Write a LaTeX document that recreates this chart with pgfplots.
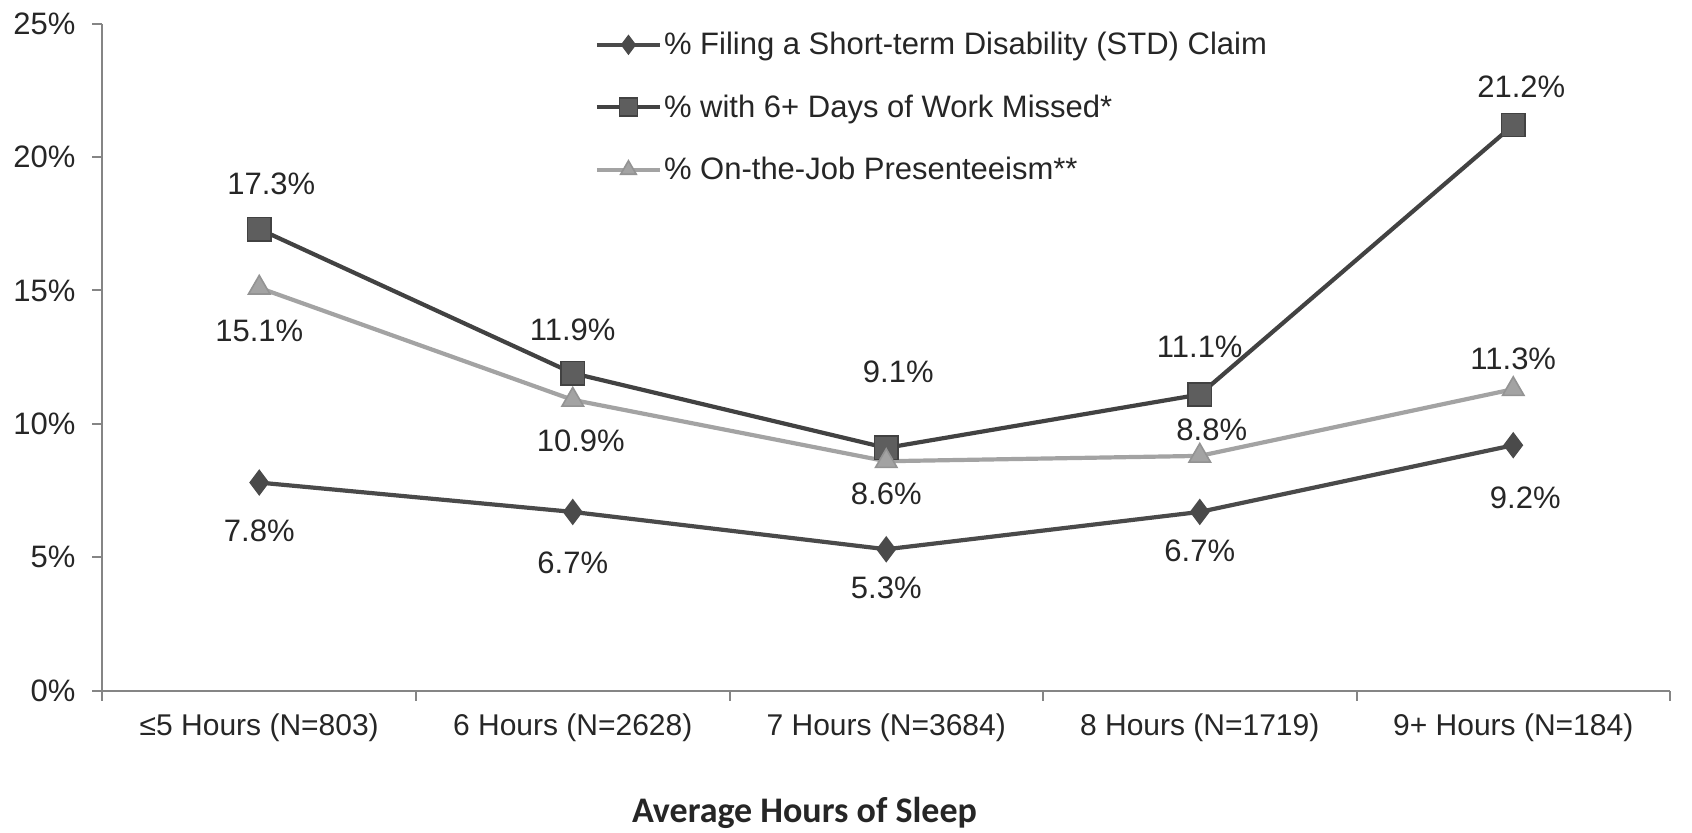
\documentclass[border=0pt]{standalone}
\usepackage{fontspec}
\setmainfont{Liberation Sans}
\newfontfamily\labelfont{Carlito}
\usepackage{pgfplots}
\usepackage{pgfplotstable}
\pgfplotsset{compat=1.18}

\definecolor{stdc}{HTML}{4A4A4A}
\definecolor{sqc}{HTML}{424242}
\definecolor{trc}{HTML}{A3A3A3}
\definecolor{axc}{HTML}{858585}

\pgfplotsset{
  vallabels/.style={
    nodes near coords={\pgfmathprintnumber[fixed,precision=1,fixed zerofill]{\pgfplotspointmeta}\%},
    point meta=explicit,
    visualization depends on={\thisrow{dy} \as \labdy},
    visualization depends on={\thisrow{dx} \as \labdx},
    every node near coord/.append style={font=\fontsize{15.5}{17}\selectfont, text=black!85,
      anchor=center, xshift=\labdx pt, yshift=\labdy pt},
  }
}

% x value, dy (pt), dx (pt) for the value label
\pgfplotstableread{
x y dy dx
0 7.8 -24.3 0
1 6.7 -25.4 0
2 5.3 -19.4 0
3 6.7 -19.4 0
4 9.2 -26.5 6
}\stdtab
\pgfplotstableread{
x y dy dx
0 17.3 22.5 6
1 11.9 21.6 0
2 9.1 37.8 6
3 11.1 23.8 0
4 21.2 19.4 4
}\sqtab
\pgfplotstableread{
x y dy dx
0 15.1 -21.6 0
1 10.9 -20.5 4
2 8.6 -16.2 0
3 8.8 13.0 6
4 11.3 15.1 0
}\trtab

\begin{document}
\begin{tikzpicture}
\path[use as bounding box] (-51.25pt,-70.7pt) rectangle (794.8pt,345.35pt);
\begin{axis}[
  scale only axis,
  width=783.8pt, height=333.5pt,
  xmin=-0.5, xmax=4.5, ymin=0, ymax=25,
  axis x line*=bottom, axis y line*=left,
  axis line style={-, draw=axc, line width=1pt},
  tick style={draw=axc, line width=1pt},
  tick align=outside,
  major tick length=5pt,
  xtick={-0.5,0.5,1.5,2.5,3.5,4.5},
  x tick label as interval,
  xticklabels={{≤5 Hours (N=803)},{6 Hours (N=2628)},{7 Hours (N=3684)},{8 Hours (N=1719)},{9+ Hours (N=184)}},
  xticklabel style={font=\fontsize{15}{17}\selectfont, text=black!85, yshift=-3pt},
  ytick={0,5,10,15,20,25},
  yticklabel={\pgfmathprintnumber{\tick}\%},
  yticklabel style={font=\fontsize{15.5}{17}\selectfont, text=black!85, xshift=-5pt},
  /pgf/number format/assume math mode=true,
  xlabel={Average Hours of Sleep},
  xlabel style={font=\labelfont\bfseries\fontsize{18}{20}\selectfont, text=black!85,
    at={(axis description cs:0.3333,0)}, anchor=base west, yshift=-66pt},
  legend style={at={(axis description cs:0,1)}, anchor=north west, xshift=246pt, yshift=-3pt,
    draw=none, fill=none, inner sep=0pt, row sep=16.5pt,
    font=\fontsize{15.5}{17}\selectfont, text=black!85,
    nodes={inner sep=1pt}},
  legend cell align=left,
  legend image code/.code={\draw[mark repeat=2,mark phase=2] plot coordinates {(0pt,0pt) (15.75pt,0pt) (31.5pt,0pt)};},
  clip=false,
]
\addplot[color=stdc, line width=2.1pt, mark=diamond*, mark size=6pt, mark options={fill=stdc, draw=stdc, line width=0.8pt}, vallabels,
  legend image post style={mark size=4.5pt}]
  table[x=x, y=y, meta=y] {\stdtab};
\addlegendentry{\% Filing a Short-term Disability (STD) Claim}
\addplot[color=sqc, line width=2.1pt, mark=square*, mark size=5.8pt, mark options={fill=sqc!85!white, draw=sqc, line width=0.8pt}, vallabels,
  legend image post style={mark size=4.5pt}]
  table[x=x, y=y, meta=y] {\sqtab};
\addlegendentry{\% with 6+ Days of Work Missed*}
\addplot[color=trc, line width=2.1pt, mark=triangle*, mark size=6.2pt, mark options={fill=trc, draw=trc!90!black, line width=0.8pt}, vallabels,
  legend image post style={mark size=4.5pt}]
  table[x=x, y=y, meta=y] {\trtab};
\addlegendentry{\% On-the-Job Presenteeism**}
\end{axis}
\end{tikzpicture}
\end{document}
